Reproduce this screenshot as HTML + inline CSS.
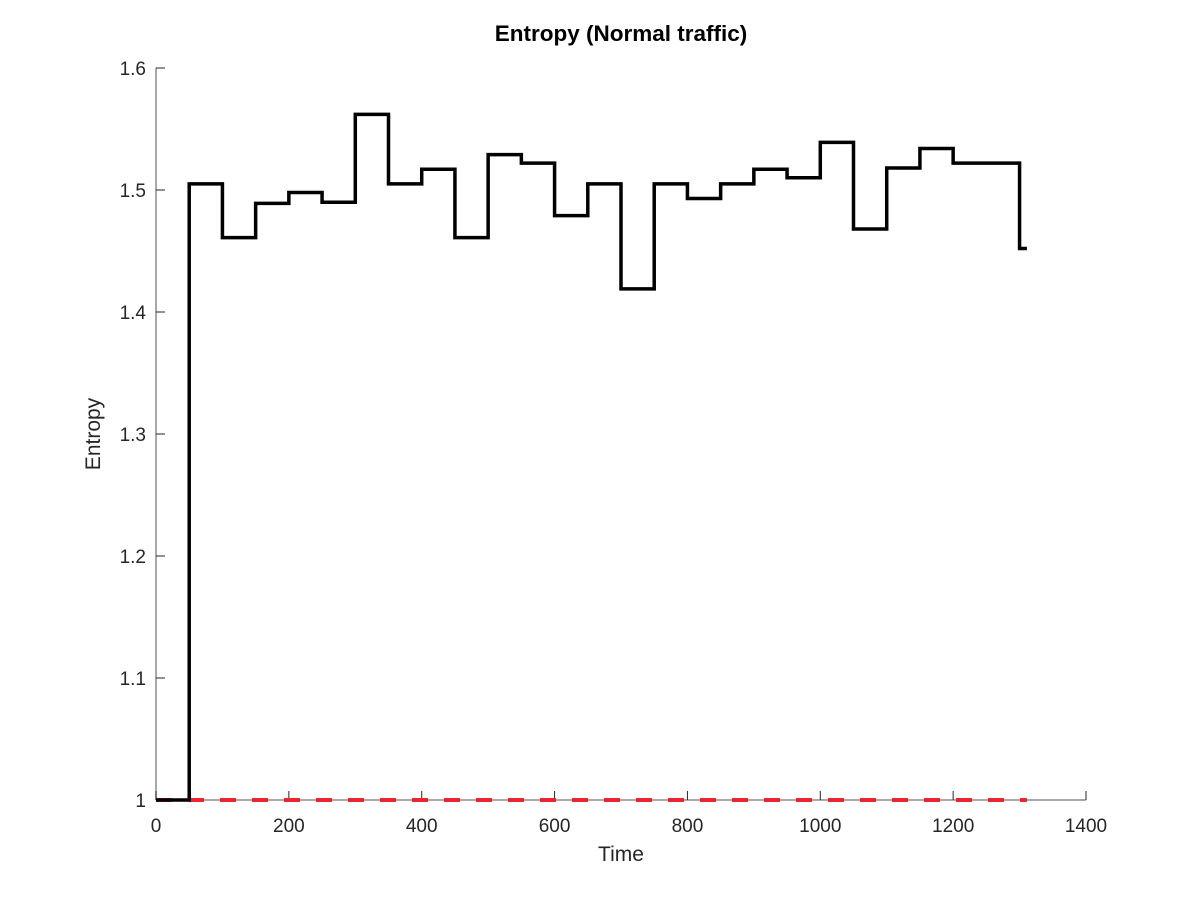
<!DOCTYPE html>
<html><head><meta charset="utf-8"><style>
body{margin:0;background:#fff;}
svg text{font-family:"Liberation Sans",sans-serif;fill:#262626;}
</style></head><body>
<svg id="chart" width="1200" height="900">
<rect width="1200" height="900" fill="#fff"/>
<text x="621" y="41" text-anchor="middle" font-size="22.5" font-weight="bold" style="fill:#000">Entropy (Normal traffic)</text>
<g id="axes"></g>
<g id="series"></g>
<text x="621" y="861" text-anchor="middle" font-size="21">Time</text>
<text transform="translate(100,434) rotate(-90)" text-anchor="middle" font-size="21">Entropy</text>
</svg>
<script>
const xTicks=[0,200,400,600,800,1000,1200,1400];
const yTicks=[1,1.1,1.2,1.3,1.4,1.5,1.6];
const yTickLabels=["1","1.1","1.2","1.3","1.4","1.5","1.6"];
const stepStarts=[0,50,100,150,200,250,300,350,400,450,500,550,600,650,700,750,800,850,900,950,1000,1050,1100,1150,1200,1250,1300];
const entropyValues=[1.0,1.505,1.461,1.489,1.498,1.490,1.562,1.505,1.517,1.461,1.529,1.522,1.479,1.505,1.419,1.505,1.493,1.505,1.517,1.510,1.539,1.468,1.518,1.534,1.522,1.522,1.452];
const endTime=1311;
const thresholdValue=1.0;
const X=v=>156+(v-0)*(930/1400);
const Y=v=>800-(v-1)*(732/0.6);
const NS="http://www.w3.org/2000/svg";
function mk(t,a,p){const e=document.createElementNS(NS,t);for(const k in a)e.setAttribute(k,a[k]);p.appendChild(e);return e;}
const ax=document.getElementById('axes');
let l=mk('line',{x1:156,y1:800,x2:1086,y2:800,stroke:'#8c8c8c','stroke-width':1.5},ax);


l=mk('line',{x1:156,y1:68,x2:156,y2:800,stroke:'#8c8c8c','stroke-width':1.5},ax);


xTicks.forEach(v=>{
 const t=mk('line',{x1:X(v),y1:800,x2:X(v),y2:791,stroke:'#262626'},ax);
 
 
 const tx=mk('text',{x:X(v),y:832,'text-anchor':'middle','font-size':19},ax);tx.textContent=v;
 
 
});
yTicks.forEach((v,i)=>{
 const t=mk('line',{x1:156,y1:Y(v),x2:165,y2:Y(v),stroke:'#262626'},ax);
 
 
 const tx=mk('text',{x:146,y:Y(v)+7,'text-anchor':'end','font-size':19},ax);tx.textContent=yTickLabels[i];
 
 
});
const se=document.getElementById('series');
let d='';
stepStarts.forEach((s,i)=>{
 const e=i+1<stepStarts.length?stepStarts[i+1]:endTime;
 d+=(i===0?'M':'L')+X(s)+','+Y(entropyValues[i])+' L'+X(e)+','+Y(entropyValues[i])+' ';
});
const th=mk('line',{x1:X(0),y1:Y(thresholdValue),x2:X(endTime),y2:Y(thresholdValue),stroke:'#e8262b','stroke-width':4,'stroke-dasharray':'16,16'},se);


const p=mk('path',{d:d,fill:'none',stroke:'#000','stroke-width':3.5},se);


</script>
</body></html>
